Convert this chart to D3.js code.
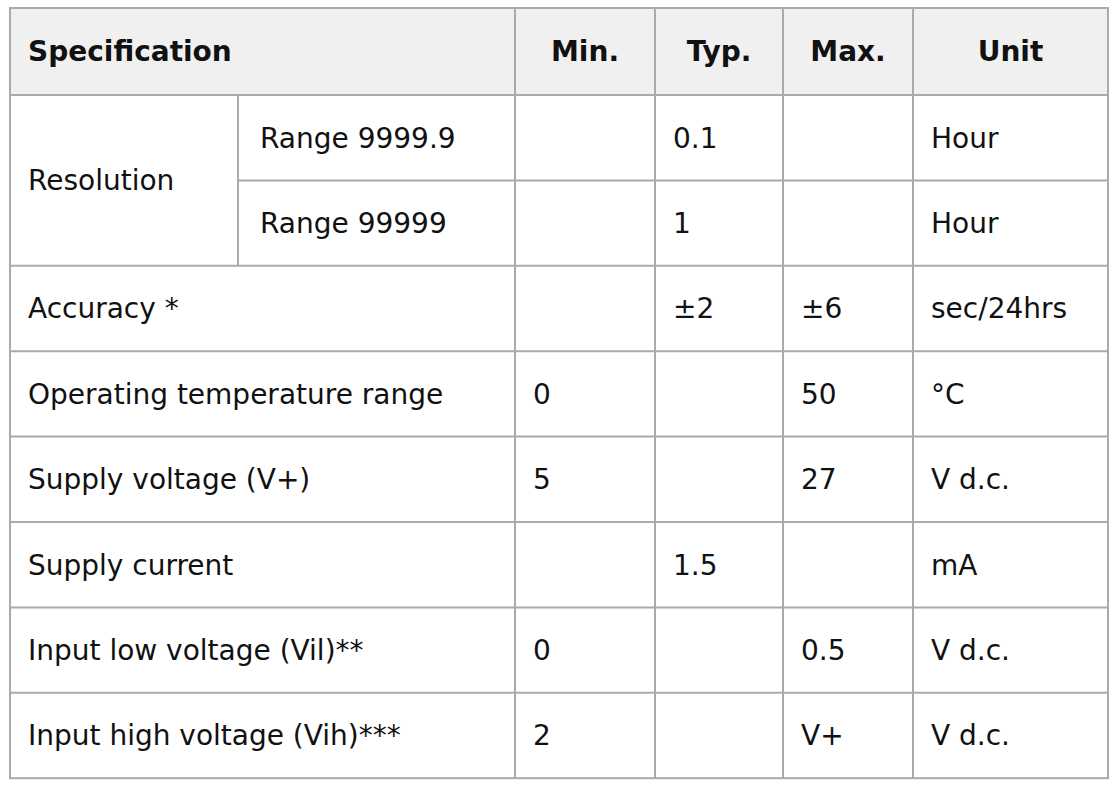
<!DOCTYPE html>
<html>
<head>
<meta charset="UTF-8">
<script src="https://cdn.jsdelivr.net/npm/d3@7"></script>
<style>body{margin:0;background:#fff}</style>
</head>
<body>
<svg id="chart" width="1120" height="787"></svg>
<script>
const headers = ["Specification", "Min.", "Typ.", "Max.", "Unit"];
const specs = ["Resolution", "Accuracy *", "Operating temperature range", "Supply voltage (V+)",
  "Supply current", "Input low voltage (Vil)**", "Input high voltage (Vih)***"];
const subSpecs = ["Range 9999.9", "Range 99999"];
const minVals = ["", "", "", "0", "5", "", "0", "2"];
const typVals = ["0.1", "1", "±2", "", "", "1.5", "", ""];
const maxVals = ["", "", "±6", "50", "27", "", "0.5", "V+"];
const units = ["Hour", "Hour", "sec/24hrs", "°C", "V d.c.", "mA", "V d.c.", "V d.c."];

const colEdges = [10, 238, 515, 655, 783, 913, 1108];
const tableTop = 8, headH = 87, rowH = 85.4;
const font = "'DejaVu Sans', Verdana, sans-serif";
const fs = 28;

const svg = d3.select("#chart");
const rowY = i => tableTop + headH + rowH * i;
const nRows = minVals.length;
const bottom = rowY(nRows);

svg.append("rect").attr("x", colEdges[0]).attr("y", tableTop)
  .attr("width", colEdges[6] - colEdges[0]).attr("height", headH).attr("fill", "#f0f0f0");

const g = svg.append("g").attr("font-family", font).attr("font-size", fs).attr("fill", "#111");

// header
const headX = [colEdges[0] + 18, (colEdges[2] + colEdges[3]) / 2, (colEdges[3] + colEdges[4]) / 2,
  (colEdges[4] + colEdges[5]) / 2, (colEdges[5] + colEdges[6]) / 2];
g.selectAll(".h").data(headers).join("text")
  .attr("x", (d, i) => headX[i]).attr("y", tableTop + headH / 2)
  .attr("dy", "0.35em").attr("font-weight", "bold")
  .attr("text-anchor", (d, i) => i === 0 ? "start" : "middle").text(d => d);

// spec column
const specRows = [[0, 2], [2, 3], [3, 4], [4, 5], [5, 6], [6, 7], [7, 8]];
g.selectAll(".s").data(specs).join("text")
  .attr("x", colEdges[0] + 18)
  .attr("y", (d, i) => (rowY(specRows[i][0]) + rowY(specRows[i][1])) / 2)
  .attr("dy", "0.35em").text(d => d);
g.selectAll(".ss").data(subSpecs).join("text")
  .attr("x", colEdges[1] + 22).attr("y", (d, i) => rowY(i) + rowH / 2)
  .attr("dy", "0.35em").text(d => d);

[minVals, typVals, maxVals, units].forEach((col, c) => {
  g.selectAll(".c" + c).data(col).join("text")
    .attr("x", colEdges[c + 2] + 18).attr("y", (d, i) => rowY(i) + rowH / 2)
    .attr("dy", "0.35em").text(d => d);
});

// grid lines
const lines = svg.append("g").attr("stroke", "#aaa").attr("stroke-width", 2);
lines.append("rect").attr("x", colEdges[0]).attr("y", tableTop)
  .attr("width", colEdges[6] - colEdges[0]).attr("height", bottom - tableTop).attr("fill", "none");
const hLines = [{ y: tableTop + headH, x1: colEdges[0] }, { y: rowY(1), x1: colEdges[1] }];
for (let i = 2; i < nRows; i++) hLines.push({ y: rowY(i), x1: colEdges[0] });
lines.selectAll(".hl").data(hLines).join("line")
  .attr("x1", d => d.x1).attr("x2", colEdges[6]).attr("y1", d => d.y).attr("y2", d => d.y);
const vLines = [{ x: colEdges[1], y1: tableTop + headH, y2: rowY(2) }];
for (let c = 2; c < 6; c++) vLines.push({ x: colEdges[c], y1: tableTop, y2: bottom });
lines.selectAll(".vl").data(vLines).join("line")
  .attr("x1", d => d.x).attr("x2", d => d.x).attr("y1", d => d.y1).attr("y2", d => d.y2);
</script>
</body>
</html>
